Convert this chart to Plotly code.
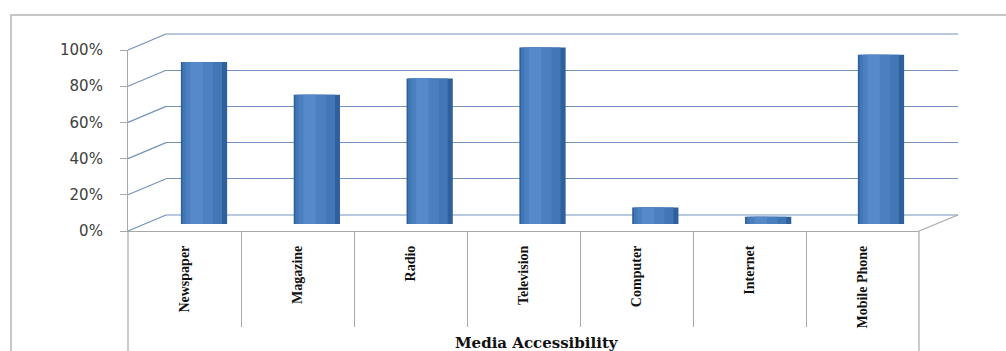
import plotly.graph_objects as go

categories = ["Newspaper", "Magazine", "Radio", "Television", "Computer", "Internet", "Mobile Phone"]
values = [89, 71, 80, 97, 9, 4, 93]  # percent
tick_values = [0, 0.2, 0.4, 0.6, 0.8, 1.0]
x_title = "Media Accessibility"

W, H = 1006, 351
def X(px):
    return px / W
def Y(py):
    return 1 - py / H

frac = [v / 100 for v in values]
GRID = "#7393bd"
GRAY = "#a8a8a8"

fig = go.Figure()

fig.add_trace(go.Scatter(x=[0, 1], y=[0, 1], mode="markers", marker=dict(opacity=0),
                         hoverinfo="skip", showlegend=False, xaxis="x", yaxis="y"))
fig.add_trace(go.Scatter(x=categories, y=frac, mode="markers", marker=dict(opacity=0),
                         hoverinfo="skip", showlegend=False, xaxis="x2", yaxis="y2"))
layers = [
    dict(width=0.41, offset=-0.205, color="#30609b"),
    dict(width=0.35, offset=-0.19, color="#4277b6"),
    dict(width=0.24, offset=-0.16, color="#4b80c0"),
    dict(width=0.11, offset=-0.12, color="#5689c8"),
]
for L in layers:
    fig.add_trace(go.Bar(x=categories, y=frac, width=L["width"], offset=L["offset"],
                         marker=dict(color=L["color"], line=dict(width=0)),
                         showlegend=False, hoverinfo="skip", xaxis="x3", yaxis="y3"))
fig.add_trace(go.Scatter(x=[0, 6], y=[0, 1], mode="markers", marker=dict(opacity=0),
                         hoverinfo="skip", showlegend=False, xaxis="x4", yaxis="y4"))

shapes = []
# left wall perspective lines
for v in tick_values:
    shapes.append(dict(type="line", xref="paper", yref="paper",
                       x0=X(128), y0=Y(231 - v * 181), x1=X(166), y1=Y(215 - v * 181),
                       line=dict(color=GRID, width=1.2), layer="below"))
# back wall top and floor edges
for v in (tick_values[0], tick_values[-1]):
    shapes.append(dict(type="line", xref="paper", yref="paper",
                       x0=X(166), y0=Y(215 - v * 181), x1=X(958), y1=Y(215 - v * 181),
                       line=dict(color=GRID, width=1.2), layer="below"))
shapes.append(dict(type="line", xref="paper", yref="paper", x0=X(919), y0=Y(231), x1=X(958), y1=Y(215),
                   line=dict(color=GRAY, width=1.2), layer="below"))
for px in (128, 919):
    shapes.append(dict(type="line", xref="paper", yref="paper", x0=X(px), y0=Y(231), x1=X(px), y1=Y(365),
                       line=dict(color=GRAY, width=1.2), layer="below"))
shapes.append(dict(type="rect", xref="paper", yref="paper", x0=X(11), y0=Y(15), x1=X(1020), y1=Y(375),
                   line=dict(color="#b5b5b5", width=1.5), layer="below"))

fig.update_layout(
    width=W, height=H,
    margin=dict(l=0, r=0, t=0, b=0, autoexpand=False),
    paper_bgcolor="white", plot_bgcolor="rgba(0,0,0,0)",
    barmode="overlay",
    shapes=shapes,
    xaxis=dict(domain=[X(166), X(958)], range=[0, 1], visible=False, anchor="y", automargin=False),
    yaxis=dict(domain=[Y(215), Y(34)], range=[0, 1], tickvals=tick_values, showgrid=True,
               gridcolor=GRID, gridwidth=1.2, showticklabels=False, ticks="", zeroline=False,
               showline=False, anchor="x", automargin=False),
    xaxis2=dict(domain=[X(128), X(919)], anchor="y2", type="category",
                categoryorder="array", categoryarray=categories, range=[-0.5, 6.5],
                showline=True, linecolor=GRAY, linewidth=1.2, ticks="", showgrid=False,
                tickangle=-90, ticklabelstandoff=8, automargin=False,
                tickfont=dict(family="Liberation Serif", size=14, color="#111111", weight="bold")),
    yaxis2=dict(domain=[Y(231), Y(50)], anchor="x2", range=[0, 1], tickvals=tick_values,
                tickformat=".0%", ticks="outside", ticklen=7, tickcolor=GRAY, showline=True,
                linecolor=GRAY, linewidth=1.2, showgrid=False, zeroline=False,
                ticklabelstandoff=14, automargin=False,
                tickfont=dict(family="DejaVu Sans", size=15, color="#404040")),
    xaxis3=dict(domain=[X(147.6), X(937.4)], anchor="y3", type="category",
                categoryorder="array", categoryarray=categories, range=[-0.5, 6.5],
                visible=False, automargin=False),
    yaxis3=dict(domain=[Y(224), Y(42)], anchor="x3", range=[0, 1], visible=False, automargin=False),
    xaxis4=dict(domain=[X(128), X(919)], anchor="y4", range=[-0.5, 6.5],
                tickvals=[i - 0.5 for i in range(len(categories) + 1)], showgrid=True,
                gridcolor=GRAY, gridwidth=1.2, showticklabels=False, ticks="", zeroline=False,
                showline=False, automargin=False),
    yaxis4=dict(domain=[Y(327), Y(231)], anchor="x4", range=[0, 1], visible=False, automargin=False),
    annotations=[dict(text=x_title, xref="paper", yref="paper", x=X(537), y=Y(343),
                      xanchor="center", yanchor="middle", showarrow=False,
                      font=dict(family="DejaVu Serif", size=15, color="#111111", weight="bold"))],
)

fig.write_html("out.html", config={"displayModeBar": False},
               post_script="document.body.style.margin='0';document.body.style.overflow='hidden';")
